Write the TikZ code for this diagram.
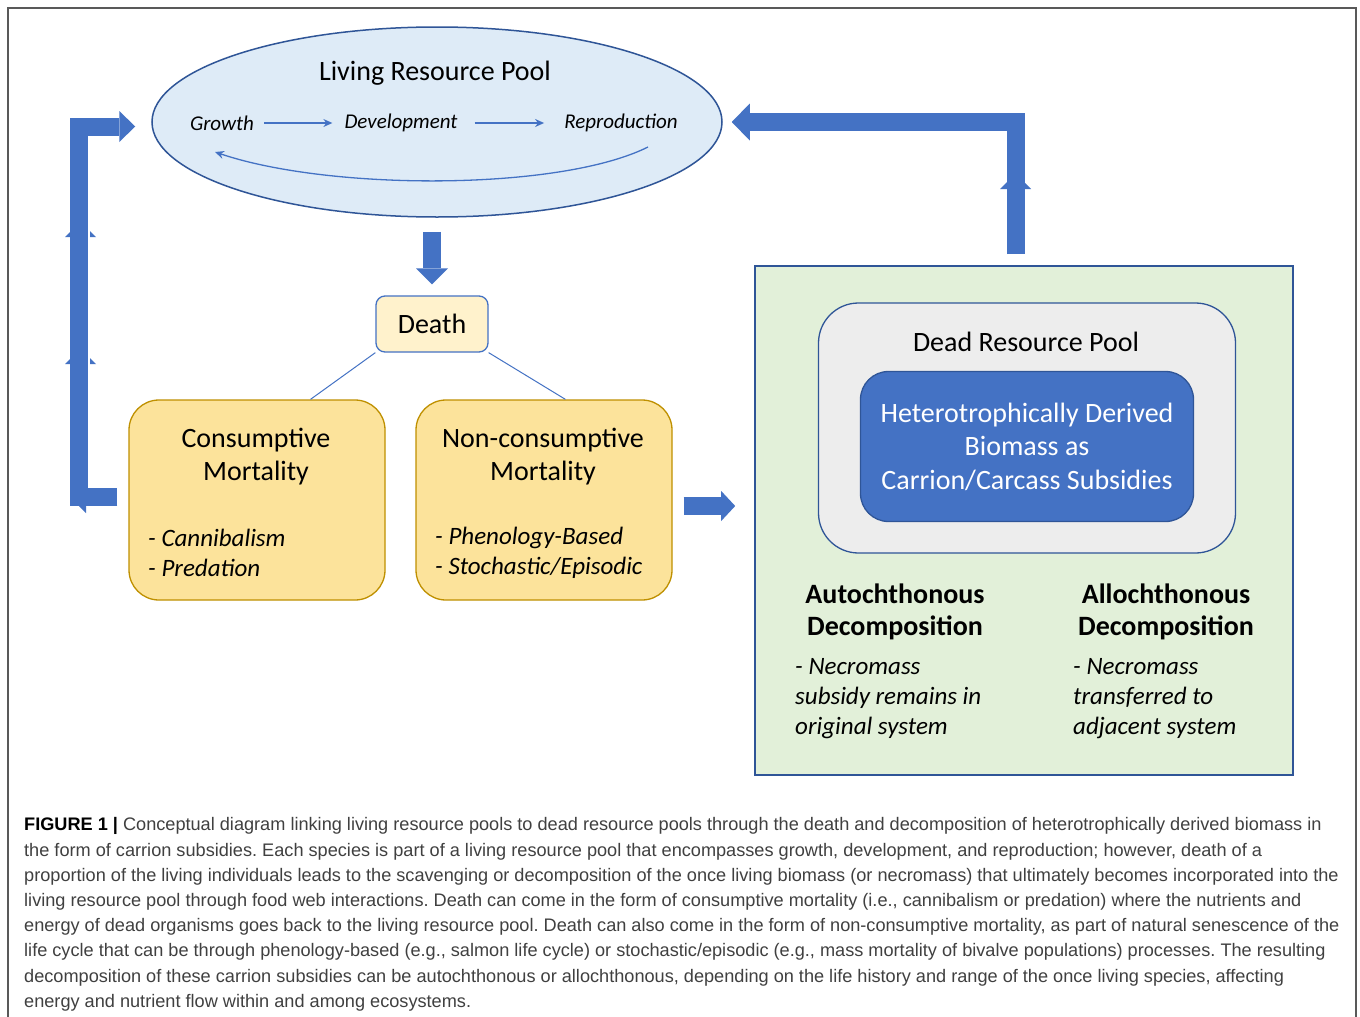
\documentclass[tikz,border=0pt]{standalone}
\usepackage{fontspec}
\setmainfont{Carlito}
\newfontfamily\capfont{Liberation Sans}
\usetikzlibrary{shapes.geometric,arrows.meta}
\definecolor{arrblue}{HTML}{4472C4}
\definecolor{darkblue}{HTML}{2F5597}
\definecolor{poolfill}{HTML}{DEEBF7}
\definecolor{deathfill}{HTML}{FFF2CC}
\definecolor{mortfill}{HTML}{FCE39B}
\definecolor{mortline}{HTML}{BF9000}
\definecolor{greenfill}{HTML}{E2F0D9}
\definecolor{deadfill}{HTML}{EDEDED}
\definecolor{framegray}{HTML}{595959}
\definecolor{capgray}{HTML}{404040}
\newcommand{\setsz}[2]{\fontsize{#1pt}{#2pt}\selectfont}
\frenchspacing

\begin{document}
\begin{tikzpicture}[x=1pt, y=-1pt,
  txt/.style={font=\setsz{28}{33}, align=center, inner sep=0pt},
  itl/.style={font=\itshape\setsz{25}{30}, align=left, inner sep=0pt},
  hdr/.style={font=\bfseries\setsz{28}{32}, align=center, inner sep=0pt},
  cyc/.style={font=\itshape\setsz{21}{25}, inner sep=0pt},
  pool/.style={ellipse, draw=darkblue, line width=1.5pt, fill=poolfill,
               minimum width=570pt, minimum height=190pt, inner sep=0pt},
  deathbox/.style={draw=arrblue, fill=deathfill, rounded corners=9pt,
                   line width=1.3pt, minimum width=112pt, minimum height=56pt,
                   font=\setsz{28}{33}},
  mort/.style={draw=mortline, fill=mortfill, rounded corners=30pt,
               line width=1.3pt, minimum width=256pt, minimum height=200pt},
  cycarr/.style={draw=arrblue, line width=1.3pt, -{Stealth[length=9pt,width=8pt]}},
  link/.style={draw=arrblue, line width=1pt},
  bigarr/.style={draw=arrblue, line width=18pt},
  wing/.style={fill=arrblue},
]
\fill[white] (0,0) rectangle (1360,1017);
\useasboundingbox (0,0) rectangle (1360,1017);

% ---- frame ----
\draw[framegray, line width=1.3pt] (8,1017) -- (8,8) -- (1356,8) -- (1356,1017);

% ---- living resource pool ----
\node[pool] (living) at (437,122) {};
\node[txt] (livingT) at (435,73) {Living Resource Pool};
\node[cyc] (growth) at (222,123) {Growth};
\node[cyc] (devel) at (401,123) {Development};
\node[cyc] (repro) at (621,123) {Reproduction};
\draw[cycarr, shorten <=10pt, shorten >=12pt] (growth) -- (devel);
\draw[cycarr, shorten <=17pt, shorten >=20pt] (devel) -- (repro);
\coordinate (cycS) at (648,147);
\coordinate (cycE) at (215,152);
\draw[cycarr] (cycS) .. controls (560,191) and (330,191) .. (cycE);

% ---- death and mortality ----
\node[deathbox] (death) at (432,324) {Death};
\node[mort] (cons) at (257,500) {};
\node[mort] (noncons) at (544,500) {};
\node[txt] (consT) at (256,456.5) {Consumptive\\Mortality};
\node[txt] (nonconsT) at (543,456.5) {Non-consumptive\\Mortality};
\node[itl, anchor=west] (consL) at (148,553) {- Cannibalism\\- Predation};
\node[itl, anchor=west] (nonconsL) at (435,553) {- Phenology-Based\\- Stochastic/Episodic};
\draw[link] (death.south west) -- (cons.62);
\draw[link] (death.south east) -- (noncons.78);

% ---- dead resource pool ----
\node[draw=darkblue, line width=1.6pt, fill=greenfill,
      minimum width=538pt, minimum height=509pt] (decomp) at (1024,520.5) {};
\node[draw=darkblue, line width=1.3pt, fill=deadfill, rounded corners=40pt,
      minimum width=417pt, minimum height=250pt] (deadpool) at (1027,428) {};
\node[txt] (deadT) at (1026,342) {Dead Resource Pool};
\node[draw=darkblue, line width=1.3pt, fill=arrblue, rounded corners=28pt,
      minimum width=333pt, minimum height=150pt, text=white,
      font=\setsz{28}{33.5}, align=center] (carrion) at (1027,446.5)
  {Heterotrophically Derived\\Biomass as\\Carrion/Carcass Subsidies};
\node[hdr] (auto) at (895,612) {Autochthonous\\Decomposition};
\node[hdr] (allo) at (1166,612) {Allochthonous\\Decomposition};
\node[itl, anchor=west] (autoL) at (795,699)
  {- Necromass\\subsidy remains in\\original system};
\node[itl, anchor=west] (alloL) at (1073,699)
  {- Necromass\\transferred to\\adjacent system};

% ---- block arrows ----
\draw[bigarr, -{Triangle[length=16pt,width=32pt,line width=0pt]},
      shorten <=14pt, shorten >=11pt] (death.north |- living.south) -- (death.north);
\draw[bigarr, -{Triangle[length=14pt,width=30pt,line width=0pt]},
      shorten <=11pt, shorten >=19pt]
  ([yshift=-6pt]noncons.east) -- ([yshift=-6pt]noncons.east -| decomp.west);
\draw[bigarr, -{Triangle[length=16pt,width=31pt,line width=0pt]}]
  ([xshift=-11pt,yshift=3pt]cons.west) -- ++(-38,0) |- ([xshift=-16pt,yshift=-4.5pt]living.west);
\draw[bigarr, -{Triangle[length=18pt,width=37pt,line width=0pt]}]
  ([xshift=-8.5pt,yshift=11pt]decomp.north) |- ([xshift=9pt]living.east);
\fill[wing] (71,231) -- (65,237) -- (71,237) -- cycle;
\fill[wing] (90,231) -- (96,237) -- (90,237) -- cycle;
\fill[wing] (71,358) -- (65,364) -- (71,364) -- cycle;
\fill[wing] (90,358) -- (96,364) -- (90,364) -- cycle;
\fill[wing] (1007,182) -- (1000,189) -- (1007,189) -- cycle;
\fill[wing] (1024,182) -- (1031,189) -- (1024,189) -- cycle;
\fill[wing] (78,505) -- (86,513) -- (86,505) -- cycle;

% ---- caption ----
\node[font=\capfont\setsz{18.15}{25.2}, text=capgray, align=left, inner sep=0pt,
      anchor=north west] (caption) at (24,817.5)
  {{\color{black}\bfseries FIGURE 1 |} Conceptual diagram linking living resource pools to dead resource pools through the death and decomposition of heterotrophically derived biomass in\\
   the form of carrion subsidies. Each species is part of a living resource pool that encompasses growth, development, and reproduction; however, death of a\\
   proportion of the living individuals leads to the scavenging or decomposition of the once living biomass (or necromass) that ultimately becomes incorporated into the\\
   living resource pool through food web interactions. Death can come in the form of consumptive mortality (i.e., cannibalism or predation) where the nutrients and\\
   energy of dead organisms goes back to the living resource pool. Death can also come in the form of non-consumptive mortality, as part of natural senescence of the\\
   life cycle that can be through phenology-based (e.g., salmon life cycle) or stochastic/episodic (e.g., mass mortality of bivalve populations) processes. The resulting\\
   decomposition of these carrion subsidies can be autochthonous or allochthonous, depending on the life history and range of the once living species, affecting\\
   energy and nutrient flow within and among ecosystems.};
\end{tikzpicture}
\end{document}
